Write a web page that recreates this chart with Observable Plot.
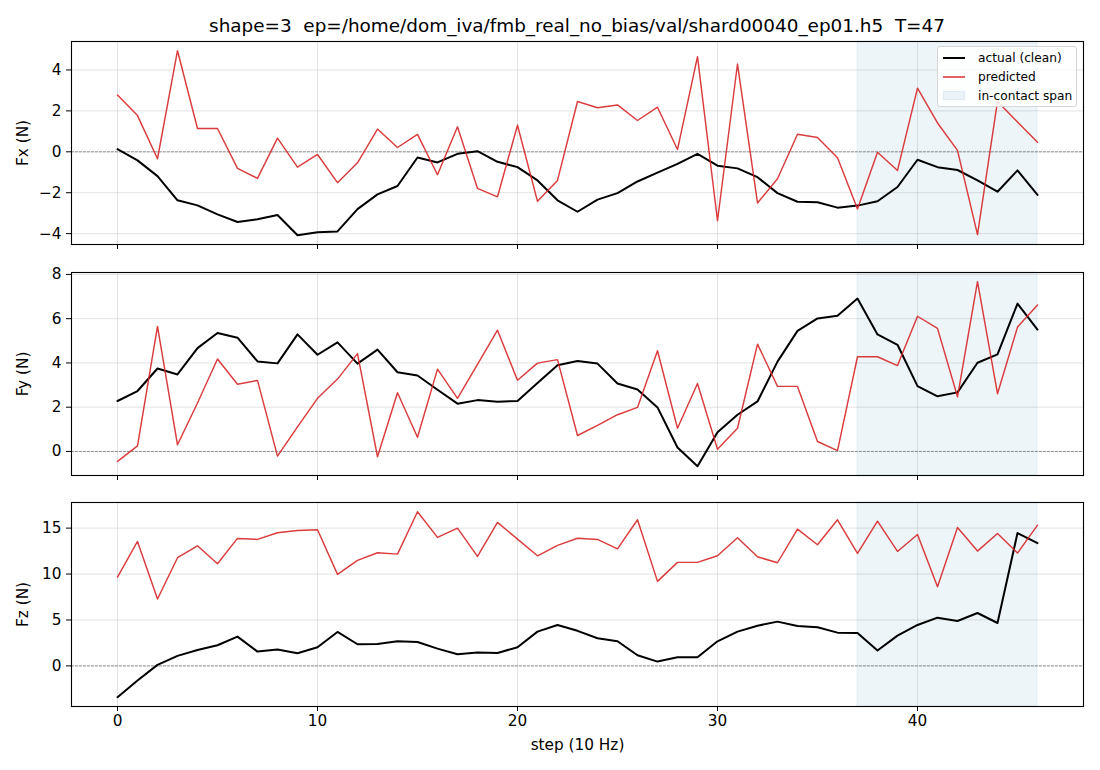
<!DOCTYPE html>
<html>
<head>
<meta charset="utf-8">
<script src="https://cdn.jsdelivr.net/npm/d3@7"></script>
<script src="https://cdn.jsdelivr.net/npm/@observablehq/plot@0.6"></script>
<style>
  html, body { margin: 0; padding: 0; background: #fff; }
  #fig { position: relative; width: 1100px; height: 770px; font-family: "DejaVu Sans", sans-serif; }
  #fig > .panel { position: absolute; left: 0; }
  #title { position: absolute; top: 0; left: 0; z-index: 2; }
  #legend { position: absolute; left: 937px; top: 46px; width: 140px; height: 61px;
            box-sizing: border-box; border: 1px solid #d6d6d6; border-radius: 3px;
            background: rgba(255,255,255,0.85); font-size: 12.2px; color: #000; }
  #legend .row { position: absolute; left: 5px; height: 14px; display: flex; align-items: center; }
  #legend .row span { margin-left: 13px; white-space: nowrap; }
</style>
</head>
<body>
<div id="fig"></div>
<script>
// Episode steps (10 Hz) and force traces, newtons
const steps = d3.range(47);

const fxActual = [0.13, -0.42, -1.19, -2.37, -2.62, -3.06, -3.43, -3.30, -3.09, -4.08,
  -3.93, -3.89, -2.80, -2.08, -1.67, -0.28, -0.52, -0.10, 0.03, -0.49,
  -0.75, -1.40, -2.37, -2.93, -2.34, -2.02, -1.45, -1.02, -0.59, -0.10,
  -0.68, -0.81, -1.24, -2.02, -2.44, -2.47, -2.73, -2.63, -2.42, -1.72,
  -0.39, -0.75, -0.89, -1.40, -1.95, -0.91, -2.11];
const fxPred = [2.78, 1.77, -0.34, 4.94, 1.14, 1.14, -0.81, -1.30, 0.67, -0.75,
  -0.13, -1.51, -0.54, 1.11, 0.21, 0.85, -1.12, 1.22, -1.79, -2.20,
  1.30, -2.42, -1.40, 2.46, 2.15, 2.29, 1.53, 2.18, 0.11, 4.65,
  -3.37, 4.29, -2.50, -1.32, 0.86, 0.70, -0.29, -2.80, -0.02, -0.91,
  3.11, 1.41, 0.07, -4.05, 2.46, 1.46, 0.47];

const fyActual = [2.28, 2.73, 3.75, 3.48, 4.67, 5.35, 5.14, 4.07, 3.98, 5.29,
  4.37, 4.93, 3.97, 4.60, 3.58, 3.43, 2.79, 2.16, 2.32, 2.25,
  2.28, 3.09, 3.90, 4.09, 3.97, 3.07, 2.80, 1.99, 0.18, -0.67,
  0.87, 1.66, 2.26, 4.06, 5.45, 6.01, 6.13, 6.91, 5.29, 4.82,
  2.95, 2.49, 2.67, 4.01, 4.39, 6.68, 5.51];
const fyPred = [-0.45, 0.25, 5.65, 0.30, 2.19, 4.18, 3.04, 3.21, -0.21, 1.11,
  2.40, 3.27, 4.42, -0.24, 2.65, 0.64, 3.72, 2.40, 3.93, 5.48,
  3.22, 3.99, 4.15, 0.72, 1.18, 1.66, 1.99, 4.55, 1.05, 3.07,
  0.10, 1.05, 4.85, 2.94, 2.94, 0.45, 0.04, 4.28, 4.28, 3.88,
  6.11, 5.56, 2.47, 7.67, 2.61, 5.62, 6.62];

const fzActual = [-3.41, -1.59, 0.11, 1.09, 1.74, 2.25, 3.19, 1.56, 1.78, 1.38,
  2.03, 3.70, 2.36, 2.39, 2.68, 2.61, 1.88, 1.27, 1.45, 1.41,
  2.03, 3.73, 4.46, 3.82, 3.01, 2.68, 1.16, 0.47, 0.94, 0.94,
  2.68, 3.73, 4.38, 4.82, 4.35, 4.20, 3.62, 3.59, 1.67, 3.30,
  4.46, 5.25, 4.89, 5.76, 4.67, 14.46, 13.37];
const fzPred = [9.67, 13.55, 7.28, 11.78, 13.08, 11.12, 13.88, 13.77, 14.49, 14.75,
  14.82, 9.96, 11.49, 12.32, 12.17, 16.78, 13.99, 15.00, 11.92, 15.62,
  13.80, 11.99, 13.12, 13.90, 13.77, 12.75, 15.91, 9.20, 11.27, 11.27,
  11.99, 13.95, 11.88, 11.23, 14.89, 13.19, 15.91, 12.25, 15.76, 12.46,
  14.31, 8.62, 15.07, 12.50, 14.42, 12.28, 15.33];

// In-contact span (step indices)
const contactSpan = [37, 46];

// Tick values
const xTicks = [0, 10, 20, 30, 40];
const fxTicks = [-4, -2, 0, 2, 4];
const fyTicks = [0, 2, 4, 6, 8];
const fzTicks = [0, 5, 10, 15];

const titleText = "shape=3  ep=/home/dom_iva/fmb_real_no_bias/val/shard00040_ep01.h5  T=47";
const xLabel = "step (10 Hz)";

const RED = "#d62728";
const fmt = d3.format("d");

// Shared horizontal layout of the three panels
const W = 1100, ML = 71, MR = 17;
const FONT = "DejaVu Sans, sans-serif";

// 5% padding around the data range on each side
function padded(values, frac = 0.05) {
  const [lo, hi] = d3.extent(values);
  const m = (hi - lo) * frac;
  return [lo - m, hi + m];
}
const xDomain = padded(steps);

function panel({actual, pred, yLabel, yTicks, top, height, marginTop, marginBottom, showX}) {
  const rows = steps.map((s, i) => ({step: s, actual: actual[i], pred: pred[i]}));
  const span = [{start: contactSpan[0], end: contactSpan[1]}];
  const chart = Plot.plot({
    width: W,
    height,
    marginLeft: ML,
    marginRight: MR,
    marginTop,
    marginBottom,
    style: {fontFamily: FONT, fontSize: "15.3px", color: "#000", background: "transparent", overflow: "visible"},
    x: {domain: xDomain},
    y: {domain: padded([...actual, ...pred])},
    marks: [
      Plot.gridX(xTicks, {stroke: "#b0b0b0", strokeOpacity: 0.4, strokeWidth: 0.9}),
      Plot.gridY(yTicks, {stroke: "#b0b0b0", strokeOpacity: 0.4, strokeWidth: 0.9}),
      Plot.rect(span, {x1: "start", x2: "end", fill: "#1f77b4", fillOpacity: 0.075,
        stroke: "#1f77b4", strokeOpacity: 0.08, strokeWidth: 1}),
      Plot.ruleY([0], {stroke: "#707070", strokeWidth: 0.75, strokeDasharray: "2.8,1.2"}),
      Plot.line(rows, {x: "step", y: "actual", stroke: "#000", strokeWidth: 2}),
      Plot.line(rows, {x: "step", y: "pred", stroke: RED, strokeWidth: 1.45, strokeOpacity: 0.9}),
      Plot.frame({stroke: "#000", strokeWidth: 1.1}),
      Plot.axisX(xTicks, {tickSize: 5, tickPadding: 4,
        tickFormat: showX ? fmt : () => "",
        label: showX ? xLabel : null, labelAnchor: "center", labelArrow: "none", labelOffset: 43}),
      Plot.axisY(yTicks, {tickSize: 5, tickPadding: 5, tickFormat: fmt,
        label: yLabel, labelAnchor: "center", labelArrow: "none", labelOffset: 54})
    ]
  });
  const wrap = document.createElement("div");
  wrap.className = "panel";
  wrap.style.top = top + "px";
  wrap.appendChild(chart);
  return wrap;
}

const fig = document.getElementById("fig");

fig.appendChild(panel({actual: fxActual, pred: fxPred, yLabel: "Fx (N)", yTicks: fxTicks,
  top: 0, height: 260, marginTop: 41, marginBottom: 16, showX: false}));
fig.appendChild(panel({actual: fyActual, pred: fyPred, yLabel: "Fy (N)", yTicks: fyTicks,
  top: 260, height: 230, marginTop: 12, marginBottom: 15, showX: false}));
fig.appendChild(panel({actual: fzActual, pred: fzPred, yLabel: "Fz (N)", yTicks: fzTicks,
  top: 490, height: 280, marginTop: 12, marginBottom: 64, showX: true}));

// Title, centred over the plotting area
const title = d3.create("svg").attr("id", "title").attr("width", W).attr("height", 40);
title.append("text")
  .attr("x", (ML + W - MR) / 2).attr("y", 32)
  .attr("text-anchor", "middle")
  .attr("font-family", FONT)
  .attr("font-size", 18.4)
  .attr("fill", "#000")
  .style("white-space", "pre")
  .text(titleText);
fig.appendChild(title.node());

// Legend (upper right of the Fx panel)
const legendItems = [
  {label: "actual (clean)", kind: "line", color: "#000", width: 2},
  {label: "predicted", kind: "line", color: RED, width: 1.45},
  {label: "in-contact span", kind: "patch", color: "#1f77b4"}
];
const legend = document.createElement("div");
legend.id = "legend";
legendItems.forEach((d, i) => {
  const row = document.createElement("div");
  row.className = "row";
  row.style.top = (4 + i * 19) + "px";
  const sw = d3.create("svg").attr("width", 22).attr("height", 14);
  if (d.kind === "line") {
    sw.append("line").attr("x1", 0).attr("x2", 22).attr("y1", 7).attr("y2", 7)
      .attr("stroke", d.color).attr("stroke-width", d.width);
  } else {
    sw.append("rect").attr("x", 0.5).attr("y", 2.5).attr("width", 21).attr("height", 8)
      .attr("fill", d.color).attr("fill-opacity", 0.08)
      .attr("stroke", d.color).attr("stroke-opacity", 0.1);
  }
  row.appendChild(sw.node());
  const t = document.createElement("span");
  t.textContent = d.label;
  row.appendChild(t);
  legend.appendChild(row);
});
fig.appendChild(legend);
</script>
</body>
</html>
